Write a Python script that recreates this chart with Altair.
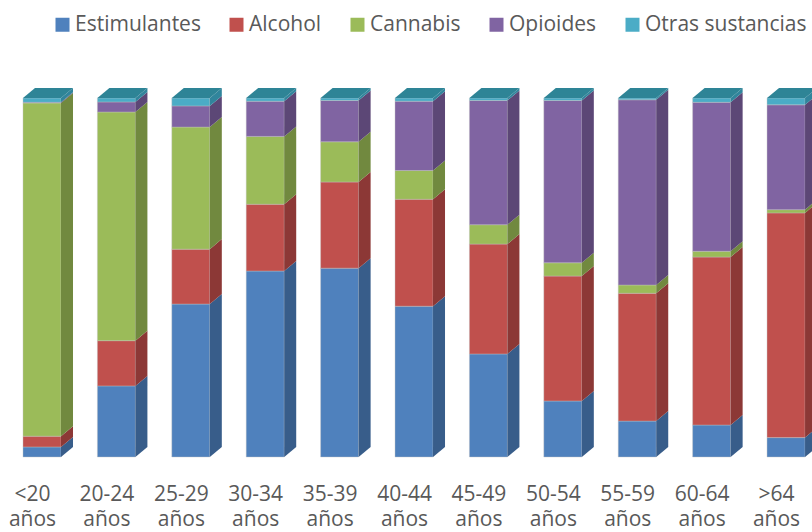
import altair as alt
import pandas as pd

# Share of treatment admissions by main substance, per age group (%)
grupos = ["<20 años", "20-24 años", "25-29 años", "30-34 años", "35-39 años",
          "40-44 años", "45-49 años", "50-54 años", "55-59 años", "60-64 años", ">64 años"]
sustancias = ["Estimulantes", "Alcohol", "Cannabis", "Opioides", "Otras sustancias"]

estimulantes = [2.8, 19.8, 42.6, 51.8, 52.6, 42.0, 28.7, 15.6, 10.0, 8.9, 5.4]
alcohol = [3.0, 12.6, 15.3, 18.6, 24.0, 29.8, 30.6, 34.8, 35.6, 46.8, 62.6]
cannabis = [92.8, 63.7, 34.0, 18.9, 11.2, 8.0, 5.4, 3.7, 2.3, 1.6, 0.9]
opioides = [0.2, 2.8, 5.9, 9.8, 11.5, 19.3, 34.6, 45.2, 51.6, 41.5, 29.2]
otras = [1.2, 1.1, 2.2, 0.9, 0.7, 0.9, 0.7, 0.7, 0.5, 1.2, 1.9]

colores = ["#4F81BD", "#C0504D", "#9BBB59", "#8064A2", "#4BACC6"]
colores_lado = ["#385D8A", "#8C3836", "#71893F", "#5C4776", "#31859C"]
color_tapa = "#2E8496"

# geometry of the extruded columns (in scale units)
MEDIO = 0.2554      # half width of the front face
FONDO_X = 0.1613    # depth offset to the right
FONDO_Y = 2.79      # depth offset upwards

series = [estimulantes, alcohol, cannabis, opioides, otras]

frente, lado, tapa = [], [], []
for i, g in enumerate(grupos):
    base = 0.0
    for k, s in enumerate(sustancias):
        v = series[k][i]
        lo, hi = base, base + v
        base = hi
        frente.append({"grupo": g, "pos": i, "sustancia": s, "x0": i - MEDIO, "x1": i + MEDIO,
                       "lo": lo, "hi": hi, "orden": k})
        seg = f"{i}-{k}"
        lado.append({"seg": seg, "sustancia": s, "x": i + MEDIO, "lo": lo, "hi": hi})
        lado.append({"seg": seg, "sustancia": s, "x": i + MEDIO + FONDO_X,
                     "lo": lo + FONDO_Y, "hi": hi + FONDO_Y})
    tapa.append({"grupo": g, "y": base, "x0": i - MEDIO, "x1": i + MEDIO})
    tapa.append({"grupo": g, "y": base + FONDO_Y, "x0": i - MEDIO + FONDO_X, "x1": i + MEDIO + FONDO_X})

df_frente = pd.DataFrame(frente)
df_lado = pd.DataFrame(lado)
df_tapa = pd.DataFrame(tapa)
df_etiq = pd.DataFrame({"pos": list(range(len(grupos))), "etiqueta": [g.replace(" ", "\n") for g in grupos]})

xscale = alt.Scale(domain=[-0.5645, 10.349], nice=False, zero=False)
yscale = alt.Scale(domain=[0, 100], nice=False, zero=False)

front = alt.Chart(df_frente).mark_rect(stroke="#c4c4c4", strokeWidth=0.5, strokeOpacity=0.8).encode(
    x=alt.X("x0:Q", scale=xscale, axis=None),
    x2="x1:Q",
    y=alt.Y("lo:Q", scale=yscale, axis=None),
    y2="hi:Q",
    color=alt.Color("sustancia:N", scale=alt.Scale(domain=sustancias, range=colores),
                    sort=sustancias,
                    legend=alt.Legend(title=None, orient="none", direction="horizontal",
                                      legendX=52, legendY=-84, symbolType="square",
                                      symbolSize=196, symbolStrokeWidth=0, symbolOpacity=1,
                                      labelFont="Open Sans", labelFontSize=21,
                                      labelColor="#595959", labelOffset=2, columnPadding=25,
                                      padding=0, labelLimit=300)),
)

side = alt.Chart(df_lado).mark_area(opacity=1).encode(
    x=alt.X("x:Q", scale=xscale, axis=None),
    y=alt.Y("lo:Q", scale=yscale, axis=None),
    y2="hi:Q",
    detail="seg:N",
    color=alt.Color("sustancia:N", scale=alt.Scale(domain=sustancias, range=colores_lado), legend=None),
)

top = alt.Chart(df_tapa).mark_area(orient="horizontal", color=color_tapa, opacity=1).encode(
    y=alt.Y("y:Q", scale=yscale, axis=None),
    x=alt.X("x0:Q", scale=xscale, axis=None),
    x2="x1:Q",
    detail="grupo:N",
)

# category labels under the columns, two lines each
labels = alt.Chart(df_etiq).mark_text(
    font="Open Sans", fontSize=21, color="#595959", baseline="top", align="center",
    lineBreak="\n", lineHeight=25, dx=-9.5,
).encode(
    x=alt.X("pos:Q", scale=xscale, axis=None),
    y=alt.value(386),
    text="etiqueta:N",
)

chart = alt.layer(front, side, top, labels).resolve_scale(color="independent").properties(
    width=812, height=359,
    autosize=alt.AutoSizeParams(type="none"),
    padding={"left": 0, "top": 98, "right": 0, "bottom": 75},
    background="white",
).configure_view(stroke=None)

chart.save("out.html", embed_options={"renderer": "svg", "actions": False})
